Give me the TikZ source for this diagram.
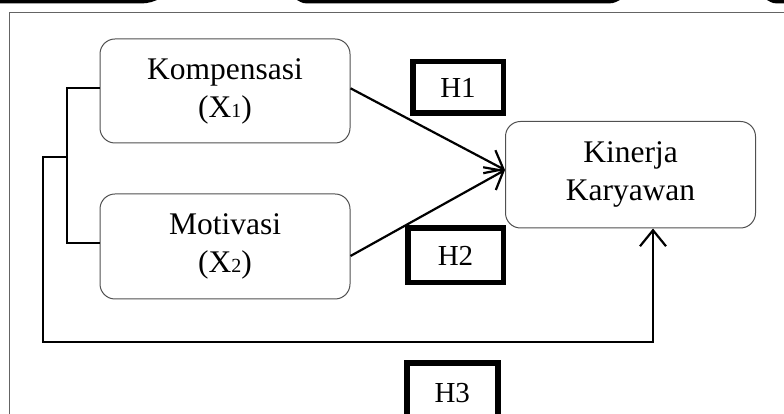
\documentclass[tikz,border=0pt]{standalone}
\usepackage{fontspec}
\setmainfont{Liberation Serif}
\usetikzlibrary{arrows.meta,positioning,calc}
\definecolor{boxline}{RGB}{80,80,80}
\definecolor{frameline}{RGB}{100,100,100}
\newcommand\subnum[1]{{\fontsize{20}{20}\selectfont #1}}

\begin{document}
\begin{tikzpicture}[x=1pt, y=1pt,
  every node/.style={font=\fontsize{31.5}{38}\selectfont},
  varbox/.style={draw=boxline, line width=1pt, rounded corners=15pt,
    minimum width=250pt, align=center, inner sep=0pt},
  hyp/.style={draw, line width=5.5pt, inner sep=0pt,
    font=\fontsize{29}{34}\selectfont},
  link/.style={line width=2.2pt},
  arr/.style={link, -{Straight Barb[length=16pt,width=26pt]}}]
\useasboundingbox (0,0) rectangle (784,414);
\clip (0,0) rectangle (784,414);
% edges of the page above
\fill (0,420) -- (157,420) -- (157,414) .. controls (148,410.5) .. (127,410.5) -- (0,410.5) -- cycle;
\fill (297,420) -- (620,420) -- (620,414) .. controls (613,410.5) .. (603,410.5)
  -- (313,410.5) .. controls (303,410.5) .. (297,414) -- cycle;
\fill (767,420) -- (790,420) -- (790,410.5) -- (783,410.5) .. controls (773,410.5) .. (767,414) -- cycle;
\draw[frameline, line width=1.2pt] (9.3,-20) |- (800,401.7);

\node[varbox, minimum height=104pt] (komp) at (225,323) {Kompensasi\\(X\subnum{1})};
\node[varbox, minimum height=105pt] (moti) at (225,167.5) {Motivasi\\(X\subnum{2})};
\node[varbox, minimum height=106.5pt] (kin) at (630.5,239.25) {Kinerja\\Karyawan};
\node[hyp, minimum width=90.5pt, minimum height=51.5pt] (h1) at (458,326.5) {H1};
\node[hyp, minimum width=95.5pt, minimum height=54.5pt] (h2) at (455.5,158.5) {H2};
\node[hyp, minimum width=91pt, minimum height=59pt] (h3) at (452.25,21.25) {H3};

\coordinate (fork) at (67.3,257.3);
\coordinate (loop) at (42.7,71.7);
\draw[arr] ([yshift=2.7pt]komp.east) -- ([yshift=4.75pt]kin.west);
\draw[arr] ([yshift=-9.5pt]moti.east) -- ([yshift=4.75pt]kin.west);
\draw[link] ([yshift=2.7pt]komp.west) -| (fork) |- ([yshift=3.2pt]moti.west);
\draw[arr] (fork) -| (loop) -| ([xshift=22.5pt]kin.south);
\end{tikzpicture}
\end{document}
